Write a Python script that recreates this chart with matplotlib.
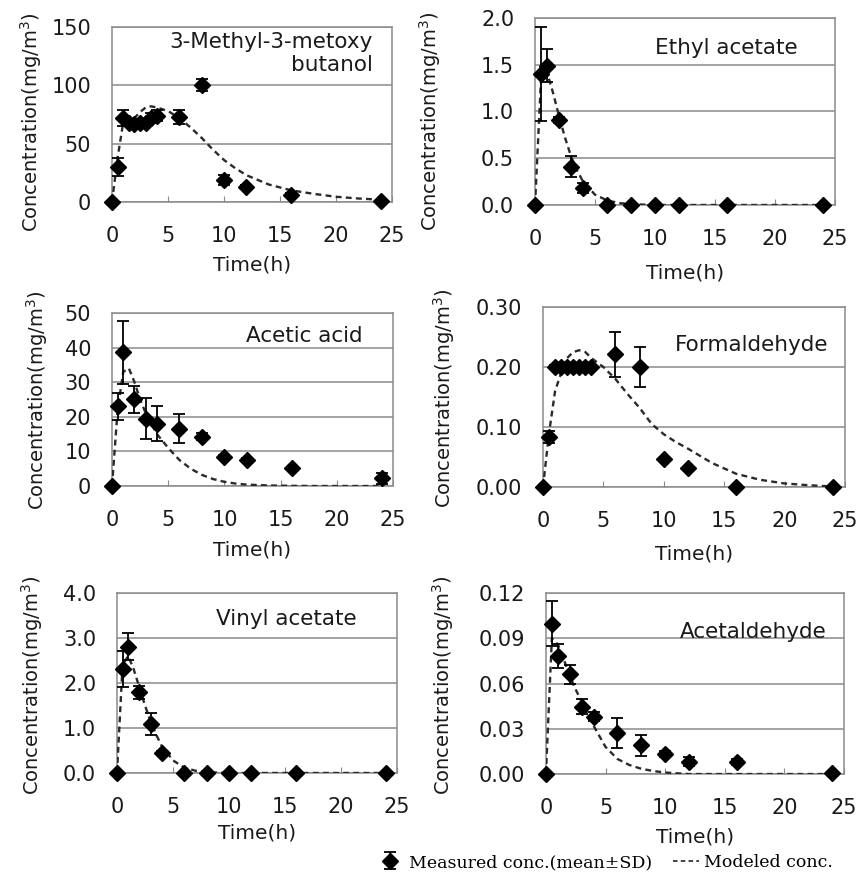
import matplotlib
matplotlib.use("Agg")
import matplotlib.pyplot as plt
from matplotlib.lines import Line2D

# sampling times of the measurements
t_fine = [0, 0.5, 1, 1.5, 2, 2.5, 3, 3.5, 4, 6, 8, 10, 12, 16, 24]
t_std = [0, 0.5, 1, 2, 3, 4, 6, 8, 10, 12, 16, 24]
model_t = [0, 0.5, 1, 1.5, 2, 2.5, 3, 3.5, 4, 5, 6, 7, 8, 9, 10, 11, 12, 14, 16, 18, 20, 22, 24]

# 3-Methyl-3-metoxy butanol
mmb_mean = [0, 30, 72, 68, 67, 68, 68, 72, 74, 73, 100, 19, 13, 6, 1]
mmb_sd = [0, 8, 7, 3, 3, 3, 3, 4, 5, 6, 5, 4, 2, 2, 0]
mmb_model = [0, 38, 68, 70, 72, 77, 81, 82, 81, 78, 72, 64, 55, 45, 36, 29, 23, 15, 10, 7, 4.5, 3, 2]

# Ethyl acetate
ea_mean = [0, 1.4, 1.49, 0.91, 0.41, 0.18, 0, 0, 0, 0, 0, 0]
ea_sd = [0, 0.5, 0.18, 0.03, 0.11, 0.05, 0, 0, 0, 0, 0, 0]
ea_model = [0, 1.35, 1.42, 1.2, 0.95, 0.72, 0.52, 0.37, 0.25, 0.11, 0.05, 0.02, 0.01, 0.004,
            0, 0, 0, 0, 0, 0, 0, 0, 0]

# Acetic acid
aa_mean = [0, 23, 38.6, 25, 19.5, 18, 16.6, 14.2, 8.5, 7.5, 5.1, 2.2]
aa_sd = [0, 4, 9, 4, 6, 5, 4.2, 1, 0.5, 0.5, 0.5, 1.5]
aa_model = [0, 22, 33, 34, 30, 25, 21, 18, 15, 11, 7.5, 5, 3.2, 2, 1.2, 0.7, 0.4, 0.15, 0.05,
            0, 0, 0, 0]

# Formaldehyde
fa_mean = [0, 0.084, 0.2, 0.2, 0.2, 0.2, 0.2, 0.2, 0.2, 0.221, 0.2, 0.046, 0.032, 0, 0]
fa_sd = [0, 0.01, 0.003, 0.003, 0.003, 0.003, 0.003, 0.003, 0.003, 0.037, 0.033, 0.002, 0.002, 0, 0]
fa_model = [0, 0.09, 0.16, 0.19, 0.215, 0.225, 0.228, 0.225, 0.215, 0.2, 0.18, 0.155, 0.132,
            0.105, 0.088, 0.075, 0.064, 0.04, 0.022, 0.012, 0.006, 0.003, 0.001]

# Vinyl acetate
va_mean = [0, 2.31, 2.8, 1.79, 1.09, 0.44, 0, 0, 0, 0, 0, 0]
va_sd = [0, 0.4, 0.3, 0.15, 0.25, 0.05, 0, 0, 0, 0, 0, 0]
va_model = [0, 2.4, 2.6, 2.3, 1.9, 1.5, 1.15, 0.85, 0.6, 0.28, 0.12, 0.05, 0.02, 0.008,
            0, 0, 0, 0, 0, 0, 0, 0, 0]

# Acetaldehyde
ad_mean = [0, 0.0997, 0.078, 0.066, 0.0446, 0.038, 0.027, 0.019, 0.0132, 0.0082, 0.0082, 0.001]
ad_sd = [0, 0.015, 0.008, 0.006, 0.005, 0.003, 0.01, 0.007, 0.002, 0.003, 0.002, 0]
ad_model = [0, 0.09, 0.086, 0.076, 0.065, 0.056, 0.048, 0.04, 0.032, 0.018, 0.01, 0.006, 0.0035,
            0.002, 0.001, 0.0005, 0, 0, 0, 0, 0, 0, 0]

plt.rcParams['font.family'] = ['DejaVu Sans']
fig = plt.figure(figsize=(8.57, 8.76), dpi=100)

# (name, t, mean, sd, model, yticks, fmt, axes rect, label xy, ylabel x/y px, xlabel y px)
panels = [
    ('3-Methyl-3-metoxy\nbutanol', t_fine, mmb_mean, mmb_sd, mmb_model, [0, 50, 100, 150], '%d',
     [0.1307, 0.7694, 0.3267, 0.1998], (0.93, 0.97), (31, 122), 265),
    ('Ethyl acetate', t_std, ea_mean, ea_sd, ea_model, [0, 0.5, 1.0, 1.5, 2.0], '%.1f',
     [0.6243, 0.766, 0.350, 0.2135], (0.877, 0.84), (430, 121), 273),
    ('Acetic acid', t_std, aa_mean, aa_sd, aa_model, [0, 10, 20, 30, 40, 50], '%d',
     [0.1307, 0.4452, 0.328, 0.1975], (0.89, 0.867), (37, 400), 550),
    ('Formaldehyde', t_fine, fa_mean, fa_sd, fa_model, [0, 0.1, 0.2, 0.3], '%.2f',
     [0.6336, 0.444, 0.3524, 0.2055], (0.944, 0.79), (444, 398), 554),
    ('Vinyl acetate', t_std, va_mean, va_sd, va_model, [0, 1.0, 2.0, 3.0, 4.0], '%.1f',
     [0.1365, 0.1176, 0.3267, 0.2055], (0.857, 0.855), (32, 685), 833),
    ('Acetaldehyde', t_std, ad_mean, ad_sd, ad_model, [0, 0.03, 0.06, 0.09, 0.12], '%.2f',
     [0.637, 0.1164, 0.3477, 0.2066], (0.943, 0.785), (443, 685), 837),
]

W, H = 857.0, 876.0
txt = '#1a1a1a'
eb_first = None
for name, t, mean, sd, model, yt, fmt, rect, lab, ylxy, xly in panels:
    ax = fig.add_axes(rect)
    ax.plot(model_t, model, color='#2a2a2a', lw=1.7, dashes=(2.5, 1.8), zorder=3)
    eb = ax.errorbar(t, mean, yerr=sd, fmt='D', color='black', ms=8, capsize=4.5,
                     elinewidth=1.3, capthick=1.3, zorder=4)
    eb.lines[0].set_clip_on(False)
    if eb_first is None:
        eb_first = eb
    ax.set_xlim(0, 25)
    ax.set_ylim(yt[0], yt[-1])
    ax.set_xticks([0, 5, 10, 15, 20, 25])
    ax.set_yticks(yt)
    ax.set_yticklabels([fmt % v for v in yt])
    ax.grid(axis='y', color='#8a8a8a', lw=1.1)
    ax.set_axisbelow(True)
    for s in ax.spines.values():
        s.set_color('#8a8a8a')
        s.set_linewidth(1.1)
    ax.tick_params(axis='x', direction='in', length=4, color='#8a8a8a', pad=17,
                   labelsize=15, labelcolor=txt)
    ax.tick_params(axis='y', length=0, pad=15, labelsize=15, labelcolor=txt)
    ax.text(lab[0], lab[1], name, transform=ax.transAxes, ha='right',
            va='top' if '\n' in name else 'center', fontsize=15.5, color=txt,
            linespacing=1.2)
    x_c = (rect[0] + rect[2] / 2)
    fig.text(x_c, 1 - xly / H, 'Time(h)', ha='center', va='center', fontsize=14.5, color=txt)
    fig.text(ylxy[0] / W, 1 - ylxy[1] / H, 'Concentration(mg/m$^3$)', rotation=90,
             ha='center', va='center', fontsize=14, color=txt)

# legend at the bottom
h_mod = Line2D([], [], color='#333333', lw=1.3, dashes=(2.5, 1.8))
fig.legend([eb_first, h_mod], ['Measured conc.(mean\u00b1SD)', 'Modeled conc.'],
           loc='lower right', bbox_to_anchor=(0.99, -0.012), ncol=2, frameon=False,
           prop={'family': 'DejaVu Serif', 'size': 12.5}, handlelength=1.5,
           handletextpad=0.3, columnspacing=1.2)

fig.savefig('out.png', dpi=100, facecolor='white')
